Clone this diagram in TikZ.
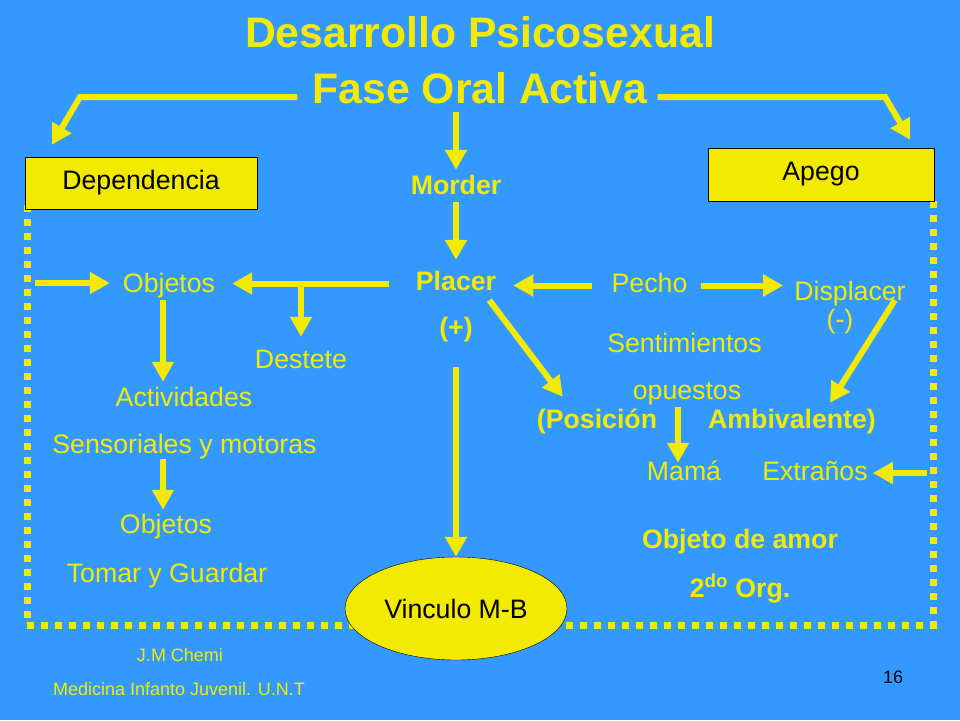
\documentclass[tikz,border=0pt]{standalone}
\usepackage{fontspec}
\setmainfont{Liberation Sans}
\usetikzlibrary{arrows.meta,shapes.geometric,positioning}
\definecolor{fondo}{RGB}{51,153,255}
\definecolor{amarillo}{RGB}{242,235,0}

\begin{document}
\begin{tikzpicture}[x=1pt,y=-1pt,
    texto/.style={text=amarillo,font=\fontsize{26.7}{32}\selectfont,inner sep=0pt,text height=19pt,text depth=6pt,anchor=base},
    negrita/.style={texto,font=\fontsize{26.7}{32}\selectfont\bfseries},
    titular/.style={texto,font=\fontsize{42.7}{50}\selectfont\bfseries,text height=31pt,text depth=9pt},
    pie/.style={texto,font=\fontsize{18}{22}\selectfont,text height=13pt,text depth=4pt},
    caja/.style={draw=black,fill=amarillo,text=black,font=\fontsize{26.7}{32}\selectfont,inner sep=0pt},
    flecha/.style={draw=amarillo,line width=6pt,-{Triangle[length=20pt,width=21pt]}},
    punteado/.style={draw=amarillo,line width=7pt,dash pattern=on 7pt off 7pt}]
    \useasboundingbox (0,0) rectangle (960,720);
    \fill[fondo] (0,0) rectangle (960,720);

    \draw[punteado] (27,205) -- (27,625) -- (400,625);
    \draw[punteado] (510,625) -- (933,625) -- (933,201);

    \node[titular]  (titulo)       at (480,47)    {Desarrollo Psicosexual};
    \node[titular]  (fase)         at (480,103)   {Fase Oral Activa};
    \node[caja,minimum width=232pt,minimum height=52pt] (dependencia) at (141,183) {Dependencia};
    \node[caja,minimum width=226pt,minimum height=53pt] (apego)       at (821,174.5) {Apego};

    \node[negrita]  (morder)       at (456,194)   {Morder};
    \node[negrita]  (placer)       at (456,290)   {Placer};
    \node[negrita]  (mas)          at (456,336)   {(+)};
    \node[ellipse,draw=black,fill=amarillo,text=black,inner sep=0pt,minimum width=222pt,minimum height=103pt,
          font=\fontsize{26.7}{32}\selectfont] (vinculo) at (456,608.5) {Vinculo M-B};

    \node[texto]    (objetos)      at (169,292)   {Objetos};
    \node[texto]    (destete)      at (301,368)   {Destete};
    \node[texto]    (actividades)  at (184,406)   {Actividades};
    \node[texto]    (sensoriales)  at (184.5,453) {Sensoriales y motoras};
    \node[texto]    (objetosB)     at (166,533)   {Objetos};
    \node[texto]    (tomar)        at (167,582)   {Tomar y Guardar};

    \node[texto]    (pecho)        at (649.5,292) {Pecho};
    \node[texto]    (displacer)    at (850,300)   {Displacer};
    \node[texto]    (menos)        at (840,328)   {(-)};
    \node[texto]    (sentimientos) at (684.5,352) {Sentimientos};
    \node[texto]    (opuestos)     at (687,399)   {opuestos};
    \node[negrita]  (posicion)     at (597,428)   {(Posición};
    \node[negrita]  (ambivalente)  at (792,428)   {Ambivalente)};
    \node[texto]    (mama)         at (684,480)   {Mamá};
    \node[texto]    (extranos)     at (815,480)   {Extraños};
    \node[negrita]  (objamor)      at (740,548)   {Objeto de amor};
    \node[negrita]  (org)          at (740,597)   {2\textsuperscript{do} Org.};

    \node[pie]      (autor)        at (180,661)   {J.M Chemi};
    \node[pie]      (catedra)      at (179,695)   {Medicina Infanto Juvenil. U.N.T};
    \node[pie,text=black] (pagina) at (893,683)   {16};

    \coordinate (esqI)   at (80,97);
    \coordinate (esqD)   at (885,97);
    \coordinate (bordeO) at (35,283);
    \coordinate (bordeE) at (927,473);
    \coordinate (ejeI)   at (163,0);
    \coordinate (ejeC)   at (678,0);

    \draw[flecha,shorten <=15pt] (fase.west |- esqI) -- (esqI) -- ([xshift=27pt,yshift=12pt]dependencia.north west);
    \draw[flecha,shorten <=10pt] (fase.east |- esqD) -- (esqD) -- ([xshift=-24pt,yshift=8pt]apego.north east);
    \draw[flecha,shorten >=5pt] (fase.south -| morder.north) -- (morder.north);
    \draw[flecha,shorten <=2pt,shorten >=11pt] (morder.south) -- (placer.north);
    \draw[flecha,shorten <=25pt] (mas.south) -- (vinculo.north);

    \draw[flecha,shorten <=27pt,shorten >=17pt] (placer.west) -- (objetos.east |- placer.west);
    \draw[flecha,shorten >=12pt] (destete.north |- placer.west) -- (destete.north);
    \draw[flecha,shorten >=13pt] (bordeO) -- (objetos.west |- bordeO);
    \draw[flecha,shorten <=2pt,shorten >=5pt] (ejeI |- objetos.south) -- (ejeI |- actividades.north);
    \draw[flecha,shorten >=4pt] (ejeI |- sensoriales.south) -- (ejeI |- objetosB.north);

    \draw[flecha,shorten <=19pt,shorten >=17pt] (pecho.west) -- (placer.east |- pecho.west);
    \draw[flecha,shorten <=13pt,shorten >=11pt] (pecho.east) -- (displacer.west |- pecho.east);
    \draw[flecha] ([xshift=-7pt,yshift=-4pt]placer.south east) -- ([xshift=26pt,yshift=12pt]posicion.north west);
    \draw[flecha] ([xshift=-11pt,yshift=6pt]displacer.south east) -- ([xshift=38pt,yshift=6pt]ambivalente.north);
    \draw[flecha,shorten <=2pt,shorten >=-2pt] (ejeC |- opuestos.south) -- (ejeC |- mama.north);
    \draw[flecha,shorten >=5pt] (bordeE) -- (extranos.east |- bordeE);
\end{tikzpicture}
\end{document}
